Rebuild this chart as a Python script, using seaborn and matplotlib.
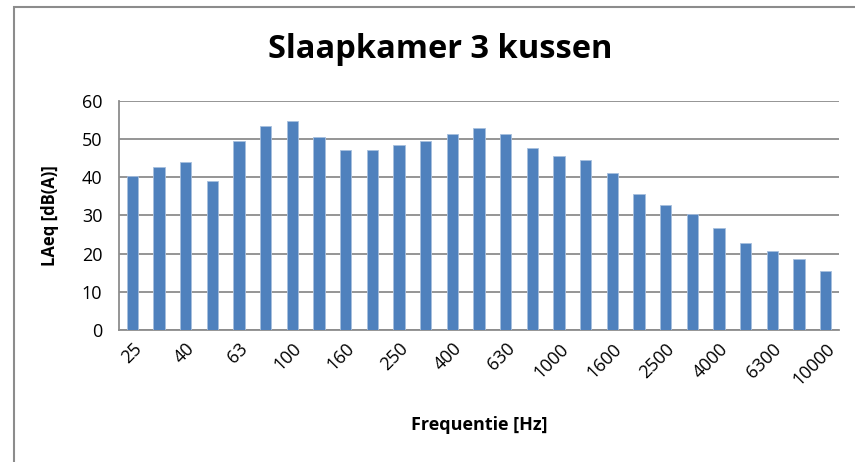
import matplotlib
matplotlib.use("Agg")
import matplotlib.pyplot as plt
import seaborn as sns
import pandas as pd
import numpy as np
from matplotlib.patches import Rectangle

# One-third octave band centre frequencies (Hz)
frequencies = ["25", "31.5", "40", "50", "63", "80", "100", "125", "160", "200",
               "250", "315", "400", "500", "630", "800", "1000", "1250", "1600",
               "2000", "2500", "3150", "4000", "5000", "6300", "8000", "10000"]
# Measured equivalent sound level per band, dB(A)
laeq = [40.3, 42.6, 43.9, 39.0, 49.5, 53.4, 54.8, 50.5, 47.1, 47.2,
        48.4, 49.4, 51.4, 52.9, 51.4, 47.6, 45.6, 44.6, 41.0, 35.5,
        32.7, 30.3, 26.6, 22.8, 20.8, 18.6, 15.4]
y_ticks = [0, 10, 20, 30, 40, 50, 60]

df = pd.DataFrame({"freq": frequencies, "laeq": laeq})

sns.set_style("white")
plt.rcParams["font.family"] = ["Open Sans", "DejaVu Sans"]
plt.rcParams["text.color"] = "black"
plt.rcParams["axes.labelcolor"] = "black"
plt.rcParams["xtick.labelcolor"] = "black"
plt.rcParams["ytick.labelcolor"] = "black"

fig = plt.figure(figsize=(8.55, 4.62), dpi=100)
ax = fig.add_axes([119 / 855, 1 - 330 / 462, (839 - 119) / 855, (330 - 100.7) / 462])

sns.barplot(data=df, x="freq", y="laeq", color="#4F81BD", width=0.42,
            saturation=1, edgecolor="#A7BFDE", linewidth=0.6, ax=ax, zorder=3)

grid_c = "#8C8C8C"
ax.set_ylim(0, 60)
ax.set_yticks(y_ticks)
ax.set_yticklabels([str(v) for v in y_ticks], fontsize=13)
ax.yaxis.grid(True, color=grid_c, linewidth=1.3, zorder=0)
ax.set_xlim(-0.5, len(frequencies) - 0.5)

# Category labels on every other band, tick marks between bands
ax.set_xticks(range(len(frequencies)))
ax.set_xticklabels([f if i % 2 == 0 else "" for i, f in enumerate(frequencies)],
                   rotation=45, ha="right", va="top", rotation_mode="anchor",
                   fontsize=13)
ax.tick_params(axis="x", which="major", length=0, pad=7)
ax.set_xticks(np.arange(-0.5, len(frequencies), 1), minor=True)
ax.tick_params(axis="x", which="minor", length=6, color=grid_c, width=1.3)
ax.tick_params(axis="y", length=7, color=grid_c, width=1.3, pad=5)

for side in ["top", "right"]:
    ax.spines[side].set_visible(False)
for side in ["left", "bottom"]:
    ax.spines[side].set_color(grid_c)
    ax.spines[side].set_linewidth(1.3)

ax.set_xlabel("Frequentie [Hz]", fontsize=13, fontweight="bold", labelpad=20)
ax.set_ylabel("LAeq [dB(A)]", fontsize=12, fontweight="bold", labelpad=16)

fig.text(440 / 855, 1 - 50 / 462, "Slaapkamer 3 kussen", ha="center", va="center",
         fontsize=23.5, fontweight="bold", color="black")

# Chart frame
fig.patches.append(Rectangle((13.5 / 855, -0.1), 1.0, 1.1 - 7 / 462,
                             transform=fig.transFigure, fill=False,
                             edgecolor="#8C8C8C", linewidth=1.5))

fig.savefig("out.png", dpi=100)
